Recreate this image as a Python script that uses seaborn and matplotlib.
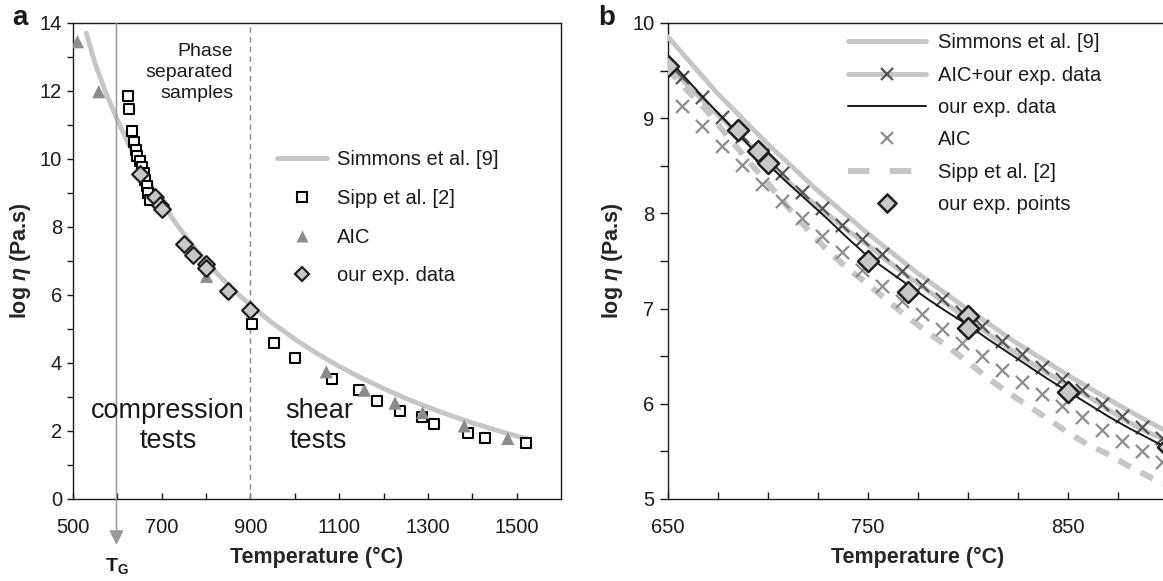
import numpy as np
import pandas as pd
import matplotlib.pyplot as plt
import seaborn as sns
from matplotlib.lines import Line2D

sns.set_style('ticks')
plt.rcParams['font.family'] = ['Liberation Sans', 'DejaVu Sans']
plt.rcParams['mathtext.fontset'] = 'custom'
plt.rcParams['mathtext.rm'] = 'Liberation Sans'
plt.rcParams['mathtext.it'] = 'Liberation Sans:italic:bold'
plt.rcParams['mathtext.bf'] = 'Liberation Sans:bold'
plt.rcParams['axes.edgecolor'] = '#1a1a1a'
plt.rcParams['text.color'] = '#1a1a1a'
plt.rcParams['xtick.color'] = '#1a1a1a'
plt.rcParams['ytick.color'] = '#1a1a1a'

# --- data ---
# Simmons et al. [9] model curve
simmons_T = [530, 550, 575, 600, 625, 650, 675, 700, 725, 750, 775, 800, 825, 850,
             875, 900, 950, 1000, 1050, 1100, 1150, 1200, 1250, 1300, 1350, 1400,
             1450, 1500, 1520]
simmons_eta = [13.70, 12.80, 11.92, 11.15, 10.45, 9.86, 9.26, 8.73, 8.24, 7.79, 7.37,
               6.99, 6.63, 6.30, 5.99, 5.70, 5.17, 4.70, 4.28, 3.90, 3.56, 3.25,
               2.96, 2.70, 2.46, 2.24, 2.04, 1.85, 1.78]

# Sipp et al. [2] measured points (panel a)
sipp_T = [623, 627, 634, 638, 642, 645, 650, 655, 659, 662, 666, 670, 674,
          903, 953, 1000, 1084, 1145, 1186, 1236, 1286, 1313, 1391, 1428, 1520]
sipp_eta = [11.86, 11.47, 10.81, 10.49, 10.27, 10.10, 9.93, 9.76, 9.59, 9.39, 9.22,
            9.00, 8.78, 5.14, 4.60, 4.16, 3.52, 3.20, 2.89, 2.59, 2.40, 2.20,
            1.94, 1.78, 1.64]

# AIC points (panel a)
aic_pts_T = [510, 558, 801, 1071, 1157, 1226, 1288, 1382, 1480]
aic_pts_eta = [13.45, 11.98, 6.55, 3.74, 3.20, 2.82, 2.54, 2.15, 1.78]

# our experimental data
exp_T = [650, 685, 695, 700, 750, 770, 800, 800, 850, 900]
exp_eta = [9.55, 8.88, 8.66, 8.53, 7.50, 7.17, 6.92, 6.80, 6.12, 5.55]

# panel b fitted curves
fit_T = [657, 667, 677, 687, 697, 707, 717, 727, 737, 747, 757, 767, 777,
         787, 797, 807, 817, 827, 837, 847, 857, 867, 877, 887, 897]
aic_our_eta = [9.43, 9.22, 9.01, 8.81, 8.61, 8.42, 8.23, 8.06, 7.88, 7.73, 7.57,
               7.40, 7.25, 7.10, 6.96, 6.82, 6.66, 6.52, 6.39, 6.26, 6.14, 6.00,
               5.87, 5.76, 5.64]
aic_eta = [9.13, 8.92, 8.71, 8.51, 8.31, 8.13, 7.95, 7.76, 7.59, 7.41, 7.24, 7.08,
           6.94, 6.79, 6.64, 6.50, 6.36, 6.23, 6.10, 5.98, 5.86, 5.73, 5.61, 5.50,
           5.39]

line_T = [650, 660, 670, 680, 690, 700, 710, 720, 730, 740, 750, 760, 770, 780,
          790, 800, 810, 820, 830, 840, 850, 860, 870, 880, 890, 900]
our_eta = [9.63, 9.40, 9.17, 8.95, 8.73, 8.52, 8.32, 8.13, 7.94, 7.74, 7.55, 7.40,
           7.25, 7.10, 6.96, 6.83, 6.68, 6.54, 6.40, 6.26, 6.13, 6.00, 5.87, 5.75,
           5.64, 5.53]
sipp_fit_eta = [9.52, 9.29, 9.07, 8.81, 8.56, 8.32, 8.07, 7.83, 7.61, 7.42, 7.26,
                7.08, 6.91, 6.75, 6.60, 6.44, 6.27, 6.12, 5.98, 5.84, 5.70, 5.57,
                5.47, 5.35, 5.24, 5.14]
aic_our_line_eta = [9.56, 9.35, 9.14, 8.94, 8.74, 8.54, 8.34, 8.16, 7.99, 7.82, 7.67,
                    7.50, 7.34, 7.19, 7.04, 6.89, 6.74, 6.59, 6.45, 6.32, 6.20, 6.08,
                    5.94, 5.81, 5.70, 5.61]

LIGHT = '#c6c6c6'
MID = '#8c8c8c'
DARK = '#555555'
EDGE = '#1e1e1e'
DIAMOND = '#c8c8c8'

W, H = 1163, 581
fig = plt.figure(figsize=(W / 100, H / 100), dpi=100)
ax_a = fig.add_axes([73 / W, 82 / H, 488 / W, 476 / H])
ax_b = fig.add_axes([667.5 / W, 82 / H, 500.5 / W, 476 / H])

# ---------------- panel a ----------------
ax_a.annotate('', xy=(598, -1.35), xytext=(598, 14), annotation_clip=False,
              arrowprops=dict(arrowstyle='-|>', color='#9a9a9a', lw=1.1,
                              mutation_scale=22, shrinkA=0, shrinkB=0))
ax_a.text(598, -1.97, r'$\mathbf{T_G}$', ha='center', va='center', fontsize=14,
          clip_on=False)
ax_a.axvline(900, color='#888888', lw=1.0, ls=(0, (4, 3)), zorder=1)

sns.lineplot(x=simmons_T, y=simmons_eta, ax=ax_a, color=LIGHT, linewidth=3.5,
             estimator=None, sort=False, legend=False, zorder=2)
sns.scatterplot(x=sipp_T, y=sipp_eta, ax=ax_a, marker='s', s=58, color='white',
                edgecolor='black', linewidth=1.5, zorder=3)
sns.scatterplot(x=aic_pts_T, y=aic_pts_eta, ax=ax_a, marker='^', s=90, color=MID,
                edgecolor='none', zorder=4)
sns.scatterplot(x=exp_T, y=exp_eta, ax=ax_a, marker='D', s=72, color=DIAMOND,
                edgecolor=EDGE, linewidth=1.6, zorder=5)

ax_a.set_xlim(500, 1600)
ax_a.set_ylim(0, 14)
ax_a.set_xticks([500, 700, 900, 1100, 1300, 1500])
ax_a.set_xticks([600, 800, 1000, 1200, 1400], minor=True)
ax_a.set_yticks(range(0, 15, 2))
ax_a.set_yticks(range(1, 14, 2), minor=True)
ax_a.tick_params(axis='x', which='both', direction='in', length=4.5, width=1,
                 pad=14, labelsize=14.5)
ax_a.tick_params(axis='y', which='both', direction='out', length=4, width=1,
                 pad=4, labelsize=14.5)

ax_a.text(861, 13.42, 'Phase\nseparated\nsamples', ha='right', va='top',
          fontsize=14, linespacing=1.3)
ax_a.text(714, 2.14, 'compression\ntests', ha='center', va='center',
          fontsize=19.5, linespacing=1.2)
ax_a.text(1054, 2.14, 'shear\ntests', ha='center', va='center',
          fontsize=19.5, linespacing=1.2)

handles_a = [
    Line2D([], [], color=LIGHT, lw=3.5),
    Line2D([], [], ls='none', marker='s', ms=7.5, mfc='white', mec='black', mew=1.5),
    Line2D([], [], ls='none', marker='^', ms=9, mfc=MID, mec='none'),
    Line2D([], [], ls='none', marker='D', ms=7.5, mfc=DIAMOND, mec=EDGE, mew=1.6),
]
ax_a.legend(handles_a, ['Simmons et al. [9]', 'Sipp et al. [2]', 'AIC', 'our exp. data'],
            loc='upper left', bbox_to_anchor=(0.418, 0.733), frameon=False,
            fontsize=14.5, handlelength=2.5, handletextpad=0.5, labelspacing=0.98,
            borderpad=0, borderaxespad=0)

# ---------------- panel b ----------------
sns.lineplot(x=line_T, y=sipp_fit_eta, ax=ax_b, color=LIGHT, linewidth=4.3,
             linestyle=(0, (2.3, 1.9)), estimator=None, sort=False, legend=False,
             zorder=1)
sns.scatterplot(x=fit_T, y=aic_eta, ax=ax_b, marker='x', s=90, color=MID,
                linewidth=1.6, zorder=2)
sns.lineplot(x=simmons_T[5:16], y=simmons_eta[5:16], ax=ax_b, color=LIGHT,
             linewidth=3.5, estimator=None, sort=False, legend=False, zorder=3)
sns.lineplot(x=line_T, y=aic_our_line_eta, ax=ax_b, color=LIGHT, linewidth=3.5,
             estimator=None, sort=False, legend=False, zorder=3)
sns.scatterplot(x=fit_T, y=aic_our_eta, ax=ax_b, marker='x', s=90, color=DARK,
                linewidth=1.6, zorder=4)
sns.lineplot(x=line_T, y=our_eta, ax=ax_b, color='#1a1a1a', linewidth=1.4,
             estimator=None, sort=False, legend=False, zorder=5)
sns.scatterplot(x=exp_T, y=exp_eta, ax=ax_b, marker='D', s=115, color=DIAMOND,
                edgecolor=EDGE, linewidth=1.8, zorder=6)

ax_b.set_xlim(650, 900)
ax_b.set_ylim(5, 10)
ax_b.set_xticks([650, 750, 850])
ax_b.set_xticks([675, 700, 725, 775, 800, 825, 875, 900], minor=True)
ax_b.set_yticks(range(5, 11))
ax_b.set_yticks(np.arange(5.5, 10, 1.0), minor=True)
ax_b.tick_params(axis='x', which='both', direction='in', length=5, width=1,
                 pad=14, labelsize=14.5)
ax_b.tick_params(axis='y', which='both', direction='out', length=5.5, width=1,
                 pad=4, labelsize=14.5)

handles_b = [
    Line2D([], [], color=LIGHT, lw=3.5),
    Line2D([], [], color=LIGHT, lw=3.5, marker='x', ms=9, mec=DARK, mew=1.6),
    Line2D([], [], color='#1a1a1a', lw=1.4),
    Line2D([], [], ls='none', marker='x', ms=9, mec=MID, mew=1.6),
    Line2D([], [], color=LIGHT, lw=4.3, ls=(0, (3.6, 3.4))),
    Line2D([], [], ls='none', marker='D', ms=9.5, mfc=DIAMOND, mec=EDGE, mew=1.8),
]
ax_b.legend(handles_b, ['Simmons et al. [9]', 'AIC+our exp. data', 'our exp. data',
                        'AIC', 'Sipp et al. [2]', 'our exp. points'],
            loc='upper left', bbox_to_anchor=(0.36, 0.978), frameon=False,
            fontsize=14.5, handlelength=3.9, handletextpad=0.6, labelspacing=0.66,
            borderpad=0, borderaxespad=0)

for ax in (ax_a, ax_b):
    for sp in ax.spines.values():
        sp.set_visible(True)
        sp.set_linewidth(1.0)
    ax.set_xlabel('Temperature (°C)', fontsize=15.5, fontweight='bold', labelpad=7)
    ax.set_ylabel(r'log $\eta$ (Pa.s)', fontsize=15.5, fontweight='bold', labelpad=5)

fig.text(12 / W, 1 - 25 / H, 'a', fontsize=20, fontweight='bold', va='baseline')
fig.text(598 / W, 1 - 25 / H, 'b', fontsize=20, fontweight='bold', va='baseline')

fig.savefig('out.png', dpi=100)
